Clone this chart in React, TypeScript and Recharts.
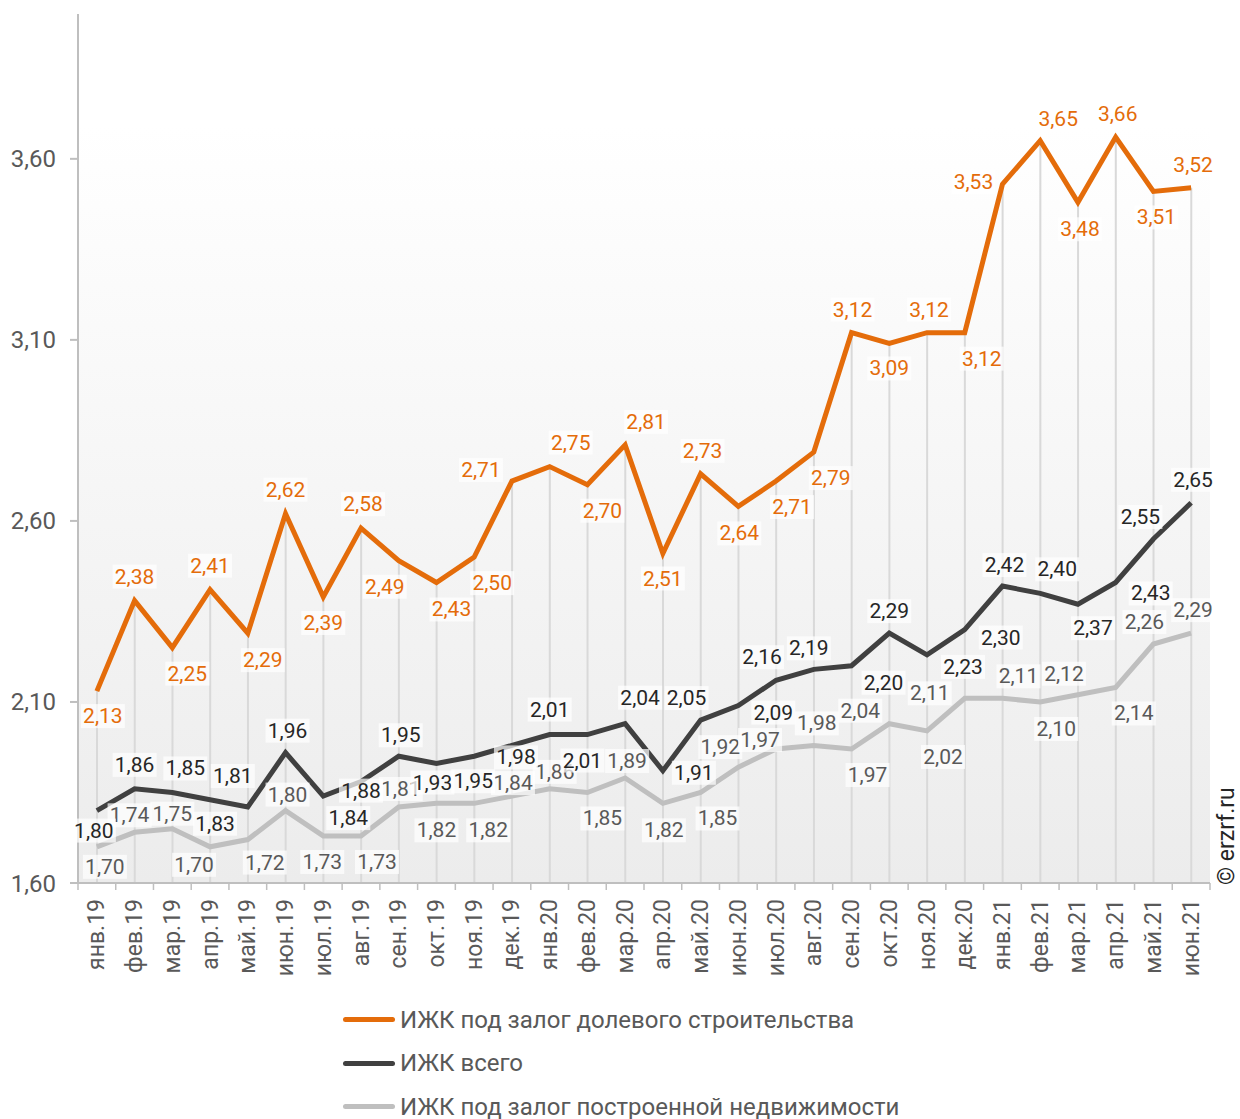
import React from "react";
import {
  ComposedChart,
  Line,
  Bar,
  XAxis,
  YAxis,
  ReferenceArea,
} from "recharts";

const MONTHS = [
  "янв.19", "фев.19", "мар.19", "апр.19", "май.19", "июн.19", "июл.19", "авг.19",
  "сен.19", "окт.19", "ноя.19", "дек.19", "янв.20", "фев.20", "мар.20", "апр.20",
  "май.20", "июн.20", "июл.20", "авг.20", "сен.20", "окт.20", "ноя.20", "дек.20",
  "янв.21", "фев.21", "мар.21", "апр.21", "май.21", "июн.21",
];

const DOLEVOE = [
  2.13, 2.38, 2.25, 2.41, 2.29, 2.62, 2.39, 2.58, 2.49, 2.43, 2.5, 2.71, 2.75, 2.7, 2.81,
  2.51, 2.73, 2.64, 2.71, 2.79, 3.12, 3.09, 3.12, 3.12, 3.53, 3.65, 3.48, 3.66, 3.51, 3.52,
];

const VSEGO = [
  1.8, 1.86, 1.85, 1.83, 1.81, 1.96, 1.84, 1.88, 1.95, 1.93, 1.95, 1.98, 2.01, 2.01, 2.04,
  1.91, 2.05, 2.09, 2.16, 2.19, 2.2, 2.29, 2.23, 2.3, 2.42, 2.4, 2.37, 2.43, 2.55, 2.65,
];

const POSTROENNOE = [
  1.7, 1.74, 1.75, 1.7, 1.72, 1.8, 1.73, 1.73, 1.81, 1.82, 1.82, 1.84, 1.86, 1.85, 1.89,
  1.82, 1.85, 1.92, 1.97, 1.98, 1.97, 2.04, 2.02, 2.11, 2.11, 2.1, 2.12, 2.14, 2.26, 2.29,
];

const Y_TICKS = [1.6, 2.1, 2.6, 3.1, 3.6];

// label placement relative to the point, [dx, dy]
const DOLEVOE_LABEL_POS = [
  [6, 25], [0, -24], [15, 26], [0, -24], [15, 27], [0, -24], [0, 26], [2, -24], [-14, 26],
  [15, 27], [18, 26], [-31, -11], [21, -24], [15, 26], [21, -23], [0, 25], [2, -23], [1, 27],
  [16, 26], [17, 26], [1, -23], [0, 25], [2, -23], [17, 26], [-29, -2], [18, -22], [2, 27],
  [2, -23], [3, 26], [2, -23],
];
const VSEGO_LABEL_POS = [
  [-3, 20], [0, -24], [13, -24], [5, 24], [-15, -31], [2, -22], [25, 22], [0, 9], [2, -21],
  [-4, 19], [-1, 25], [4, 12], [0, -25], [-5, 26], [15, -26], [31, 2], [-14, -22], [35, 7],
  [-14, -23], [-5, -21], [32, 17], [0, -22], [36, 12], [36, 8], [2, -21], [17, -24], [15, 24],
  [35, 11], [-13, -22], [2, -23],
];
const POSTROENNOE_LABEL_POS = [
  [8, 20], [-5, -17], [0, -15], [-16, 18], [17, 23], [2, -16], [-1, 26], [16, 26], [2, -18],
  [0, 27], [14, 27], [1, -13], [5, -17], [15, 26], [2, -17], [1, 27], [17, 26], [-18, -20],
  [-16, -9], [3, -22], [16, 26], [-29, -13], [16, 26], [-35, -5], [16, -22], [16, 27],
  [-14, -21], [18, 26], [-9, -22], [2, -23],
];

const ORANGE = "#E46C0A";
const DARK = "#404040";
const GREY = "#BFBFBF";
const AXIS_TEXT = "#595959";
const FONT = "Roboto, 'Noto Sans', sans-serif";

const chartData = MONTHS.map((m, i) => ({
  month: m,
  dolevoe: DOLEVOE[i],
  vsego: VSEGO[i],
  postr: POSTROENNOE[i],
}));

const fmt = (v: number) => v.toFixed(2).replace(".", ",");

function makeLabel(pos: number[][], color: string) {
  return (props: any) => {
    const { x, y, value, index } = props;
    if (x == null || y == null) return null;
    const [dx, dy] = pos[index] || [0, -22];
    const cx = x + dx;
    const cy = y + dy;
    const text = fmt(Number(value));
    const w = 44;
    return (
      <g key={`lbl-${color}-${index}`}>
        <rect x={cx - w / 2} y={cy - 12} width={w} height={24} fill="#ffffff" fillOpacity={0.7} />
        <text
          x={cx}
          y={cy}
          textAnchor="middle"
          dominantBaseline="central"
          fontSize={21}
          fontFamily={FONT}
          fill={color}
        >
          {text}
        </text>
      </g>
    );
  };
}

const STEP = (1210 - 78) / MONTHS.length;

function MonthTick(props: any) {
  const { x, y, payload, index } = props;
  return (
    <g>
      <line x1={x - STEP / 2} x2={x - STEP / 2} y1={y - 8} y2={y - 1} stroke="#BFBFBF" strokeWidth={1.5} />
      {index === MONTHS.length - 1 && (
        <line x1={x + STEP / 2} x2={x + STEP / 2} y1={y - 8} y2={y - 1} stroke="#BFBFBF" strokeWidth={1.5} />
      )}
      <text
        x={x}
        y={y + 8}
        transform={`rotate(-90, ${x}, ${y + 8})`}
        textAnchor="end"
        dominantBaseline="central"
        fontSize={23}
        fontFamily={FONT}
        fill={AXIS_TEXT}
      >
        {payload.value}
      </text>
    </g>
  );
}

const LEGEND = [
  { name: "ИЖК под залог долевого строительства", color: ORANGE },
  { name: "ИЖК всего", color: DARK },
  { name: "ИЖК под залог построенной недвижимости", color: GREY },
];

export default function App() {
  return (
    <div
      style={{
        position: "absolute",
        left: 0,
        top: 0,
        width: 1240,
        height: 1119,
        background: "#ffffff",
        overflow: "hidden",
        fontFamily: FONT,
      }}
    >
      <ComposedChart
        width={1240}
        height={1119}
        data={chartData}
        margin={{ top: 14, right: 30, left: 0, bottom: 0 }}
        barCategoryGap={0}
      >
        <defs>
          <linearGradient id="plotBg" x1="0" y1="0" x2="0" y2="1">
            <stop offset="0%" stopColor="#ffffff" />
            <stop offset="100%" stopColor="#ececec" />
          </linearGradient>
        </defs>
        <ReferenceArea y1={1.6} y2={3.69} fill="url(#plotBg)" fillOpacity={1} ifOverflow="hidden" />
        <XAxis
          dataKey="month"
          interval={0}
          height={236}
          tick={<MonthTick />}
          tickLine={false}
          axisLine={{ stroke: "#BFBFBF", strokeWidth: 2 }}
        />
        <YAxis
          domain={[1.6, 4.0]}
          ticks={Y_TICKS}
          width={78}
          tickFormatter={fmt}
          tickSize={8}
          tickMargin={14}
          tick={{ fontSize: 24, fill: AXIS_TEXT, fontFamily: FONT }}
          tickLine={{ stroke: "#BFBFBF", strokeWidth: 2 }}
          axisLine={{ stroke: "#BFBFBF", strokeWidth: 2 }}
          allowDataOverflow
        />
        {/* drop lines from the top series to the axis */}
        <Bar dataKey="dolevoe" barSize={2} fill="#D9D9D9" isAnimationActive={false} legendType="none" />
        <Line
          type="linear"
          dataKey="postr"
          stroke={GREY}
          strokeWidth={5}
          dot={false}
          isAnimationActive={false}
          label={makeLabel(POSTROENNOE_LABEL_POS, AXIS_TEXT)}
        />
        <Line
          type="linear"
          dataKey="vsego"
          stroke={DARK}
          strokeWidth={5}
          dot={false}
          isAnimationActive={false}
          label={makeLabel(VSEGO_LABEL_POS, "#262626")}
        />
        <Line
          type="linear"
          dataKey="dolevoe"
          stroke={ORANGE}
          strokeWidth={5}
          dot={false}
          isAnimationActive={false}
          label={makeLabel(DOLEVOE_LABEL_POS, ORANGE)}
        />
      </ComposedChart>

      <div style={{ position: "absolute", left: 343, top: 998 }}>
        {LEGEND.map((item) => (
          <div
            key={item.name}
            style={{ display: "flex", alignItems: "center", height: 43.5 }}
          >
            <div
              style={{
                width: 52,
                height: 5,
                borderRadius: 3,
                background: item.color,
                marginRight: 5,
              }}
            />
            <span style={{ fontSize: 24, color: AXIS_TEXT, whiteSpace: "nowrap" }}>
              {item.name}
            </span>
          </div>
        ))}
      </div>

      <svg
        width={40}
        height={200}
        style={{ position: "absolute", left: 1210, top: 700 }}
      >
        <text
          x={16}
          y={185}
          transform="rotate(-90, 16, 185)"
          dominantBaseline="central"
          fontSize={23}
          fontFamily={FONT}
          fill="#262626"
        >
          © erzrf.ru
        </text>
      </svg>
    </div>
  );
}
